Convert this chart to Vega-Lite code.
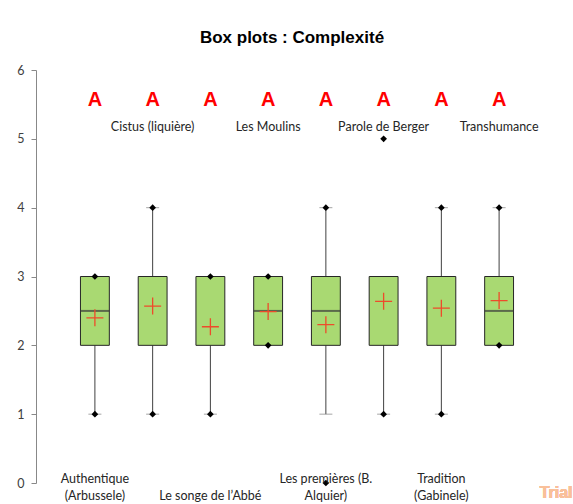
{
  "$schema": "https://vega.github.io/schema/vega-lite/v6.json",
  "autosize": {"type": "none"},
  "padding": {"left": 36, "top": 70, "right": 15, "bottom": 21},
  "width": 522,
  "height": 413,
  "background": "white",
  "config": {"view": {"stroke": null}},
  "title": {
    "text": "Box plots : Complexité",
    "font": "Liberation Sans",
    "fontSize": 17,
    "fontWeight": "bold",
    "color": "#000000",
    "offset": 17,
    "dx": -5
  },
  "data": {
    "values": [
      {"cat": "Authentique (Arbussele)", "label": "Authentique\n(Arbussele)", "pos": "bottom", "group": "A", "min": 1, "lo": 1, "q1": 2, "med": 2.5, "q3": 3, "hi": 3, "max": 3, "mean": 2.4},
      {"cat": "Cistus (liquière)", "label": "Cistus (liquière)", "pos": "top", "group": "A", "min": 1, "lo": 1, "q1": 2, "med": 3, "q3": 3, "hi": 4, "max": 4, "mean": 2.57},
      {"cat": "Le songe de l’Abbé", "label": "Le songe de l’Abbé", "pos": "bottom", "group": "A", "min": 1, "lo": 1, "q1": 2, "med": 2, "q3": 3, "hi": 3, "max": 3, "mean": 2.27},
      {"cat": "Les Moulins", "label": "Les Moulins", "pos": "top", "group": "A", "min": 2, "lo": 2, "q1": 2, "med": 2.5, "q3": 3, "hi": 3, "max": 3, "mean": 2.49},
      {"cat": "Les premières (B. Alquier)", "label": "Les premières (B.\nAlquier)", "pos": "bottom", "group": "A", "min": 0, "lo": 1, "q1": 2, "med": 2.5, "q3": 3, "hi": 4, "max": 4, "mean": 2.3},
      {"cat": "Parole de Berger", "label": "Parole de Berger", "pos": "top", "group": "A", "min": 1, "lo": 1, "q1": 2, "med": 3, "q3": 3, "hi": 3, "max": 5, "mean": 2.64},
      {"cat": "Tradition (Gabinele)", "label": "Tradition\n(Gabinele)", "pos": "bottom", "group": "A", "min": 1, "lo": 1, "q1": 2, "med": 3, "q3": 3, "hi": 4, "max": 4, "mean": 2.54},
      {"cat": "Transhumance", "label": "Transhumance", "pos": "top", "group": "A", "min": 2, "lo": 2, "q1": 2, "med": 2.5, "q3": 3, "hi": 4, "max": 4, "mean": 2.65}
    ]
  },
  "encoding": {
    "x": {
      "field": "cat", "type": "nominal", "sort": null,
      "scale": {"paddingInner": 0.5, "paddingOuter": 0.77},
      "axis": null
    }
  },
  "layer": [
    {
      "mark": {"type": "rule", "color": "#404040", "strokeWidth": 1},
      "encoding": {
        "y": {"field": "q3", "type": "quantitative", "scale": {"domain": [0, 6], "nice": false},
          "axis": {"values": [0, 1, 2, 3, 4, 5, 6], "format": "d", "title": null, "grid": false,
            "domainColor": "#888888", "tickColor": "#888888", "tickSize": 5,
            "labelFont": "Lato", "labelFontSize": 12.5, "labelColor": "#404040", "labelPadding": 7}},
        "y2": {"field": "hi"}
      }
    },
    {
      "mark": {"type": "rule", "color": "#404040", "strokeWidth": 1},
      "encoding": {
        "y": {"field": "lo", "type": "quantitative"},
        "y2": {"field": "q1"}
      }
    },
    {
      "transform": [{"filter": "datum.lo < datum.q1"}],
      "mark": {"type": "tick", "color": "#7f7f7f", "size": 13, "thickness": 1},
      "encoding": {"y": {"field": "lo", "type": "quantitative"}}
    },
    {
      "transform": [{"filter": "datum.hi > datum.q3"}],
      "mark": {"type": "tick", "color": "#7f7f7f", "size": 13, "thickness": 1},
      "encoding": {"y": {"field": "hi", "type": "quantitative"}}
    },
    {
      "mark": {"type": "bar", "fill": "#a9d972", "stroke": "#262626", "strokeWidth": 1},
      "encoding": {
        "y": {"field": "q1", "type": "quantitative"},
        "y2": {"field": "q3"}
      }
    },
    {
      "transform": [{"filter": "datum.med > datum.q1 && datum.med < datum.q3"}],
      "mark": {"type": "tick", "color": "#3a3a3a", "size": 29, "thickness": 2},
      "encoding": {"y": {"field": "med", "type": "quantitative"}}
    },
    {
      "mark": {"type": "point", "shape": "diamond", "filled": true, "color": "#000000", "size": 45, "opacity": 1},
      "encoding": {"y": {"field": "min", "type": "quantitative"}}
    },
    {
      "mark": {"type": "point", "shape": "diamond", "filled": true, "color": "#000000", "size": 45, "opacity": 1},
      "encoding": {"y": {"field": "max", "type": "quantitative"}}
    },
    {
      "mark": {"type": "point", "shape": "M-1,0L1,0M0,-1L0,1", "filled": false, "stroke": "#ee4b2b", "strokeWidth": 1.3, "size": 289, "opacity": 1},
      "encoding": {"y": {"field": "mean", "type": "quantitative"}}
    },
    {
      "mark": {"type": "text", "font": "Liberation Sans", "fontSize": 20, "fontWeight": "bold", "color": "#ff0000", "baseline": "middle", "align": "center"},
      "encoding": {"y": {"datum": 5.56}, "text": {"field": "group"}}
    },
    {
      "transform": [{"filter": "datum.pos == 'top'"}],
      "mark": {"type": "text", "font": "Lato", "fontSize": 12.5, "color": "#262626", "baseline": "middle", "align": "center"},
      "encoding": {"y": {"datum": 5.17}, "text": {"field": "label"}}
    },
    {
      "transform": [{"filter": "datum.pos == 'bottom' && indexof(datum.label, '\\n') >= 0"}],
      "mark": {"type": "text", "font": "Lato", "fontSize": 12.5, "color": "#262626", "baseline": "top", "align": "center", "lineBreak": "\n", "lineHeight": 17},
      "encoding": {"y": {"datum": 0.145}, "text": {"field": "label"}}
    },
    {
      "transform": [{"filter": "datum.pos == 'bottom' && indexof(datum.label, '\\n') < 0"}],
      "mark": {"type": "text", "font": "Lato", "fontSize": 12.5, "color": "#262626", "baseline": "middle", "align": "center"},
      "encoding": {"y": {"datum": -0.19}, "text": {"field": "label"}}
    },
    {
      "mark": {"type": "text", "font": "Liberation Sans", "fontSize": 16, "fontWeight": "bold", "color": "#f9c09a", "baseline": "middle", "align": "center", "dx": 57},
      "encoding": {"x": {"datum": "Transhumance"}, "y": {"datum": -0.15}, "text": {"value": "Trial"}}
    }
  ]
}
